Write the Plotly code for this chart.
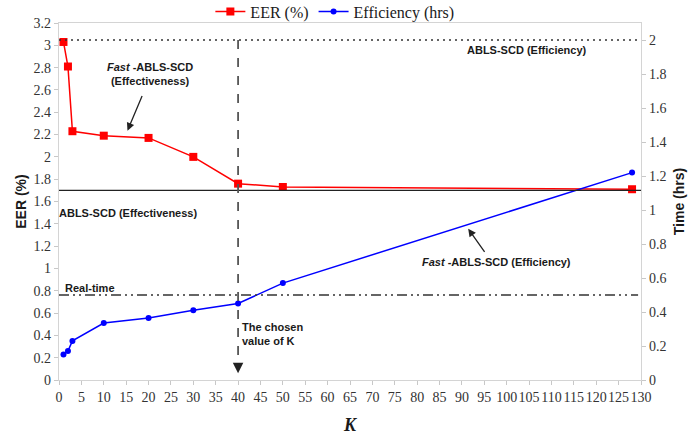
import plotly.graph_objects as go

k_values = [1, 2, 3, 10, 20, 30, 40, 50, 128]
eer_values = [3.03, 2.81, 2.23, 2.19, 2.17, 2.00, 1.76, 1.73, 1.71]
time_values = [0.15, 0.17, 0.23, 0.335, 0.365, 0.41, 0.45, 0.57, 1.22]

abls_effectiveness = 1.70   # EER (%)
abls_efficiency = 2.0       # hrs
real_time = 0.5             # hrs
chosen_k = 40

x_ticks = list(range(0, 131, 5))

serif = "Liberation Serif, Times New Roman, serif"
sans = "Liberation Sans, Arial, sans-serif"
txt = "#1a1a1a"

fig = go.Figure()

fig.add_trace(go.Scatter(
    x=k_values, y=eer_values, name="EER (%)", mode="lines+markers",
    line=dict(color="#ff0000", width=1.5),
    marker=dict(symbol="square", size=8, color="#ff0000"),
    yaxis="y"))
fig.add_trace(go.Scatter(
    x=k_values, y=time_values, name="Efficiency (hrs)", mode="lines+markers",
    line=dict(color="#0000ff", width=1.5),
    marker=dict(symbol="circle", size=6, color="#0000ff"),
    yaxis="y2"))

# reference lines
fig.add_shape(type="line", xref="paper", yref="y2", x0=0, x1=1,
              y0=abls_efficiency, y1=abls_efficiency,
              line=dict(color="#333333", width=1.6, dash="2px,4px"))
fig.add_shape(type="line", xref="paper", yref="y", x0=0, x1=1,
              y0=abls_effectiveness, y1=abls_effectiveness,
              line=dict(color="#222222", width=1.3))
fig.add_shape(type="line", xref="paper", yref="y2", x0=0, x1=0.995,
              y0=real_time, y1=real_time,
              line=dict(color="#333333", width=1.5,
                        dash="10px,4px,2px,4px,2px,4px"))
fig.add_shape(type="line", xref="x", yref="y2", x0=chosen_k, x1=chosen_k,
              y0=abls_efficiency, y1=0.08,
              line=dict(color="#555555", width=1.8, dash="dash"))

ann_font = dict(family=sans, size=11, color=txt)
anns = [
    dict(x=chosen_k, y=0.04, xref="x", yref="y2", ax=0, ay=-10, text="",
         showarrow=True, arrowhead=2, arrowsize=1.4, arrowwidth=1.5,
         arrowcolor="#222222", standoff=0),
    dict(x=15.3, y=2.235, xref="x", yref="y", ax=18.7, ay=2.56,
         axref="x", ayref="y", text="", showarrow=True, arrowhead=2,
         arrowsize=1.2, arrowwidth=1.3, arrowcolor="#222222", standoff=0),
    dict(x=91.4, y=0.89, xref="x", yref="y2", ax=95.3, ay=0.745,
         axref="x", ayref="y2", text="", showarrow=True, arrowhead=2,
         arrowsize=1.2, arrowwidth=1.3, arrowcolor="#222222", standoff=0),
    dict(x=20.3, y=2.74, xref="x", yref="y", showarrow=False,
         text="<b><i>Fast</i> -ABLS-SCD<br>(Effectiveness)</b>", font=ann_font),
    dict(x=15.4, y=1.5, xref="x", yref="y", showarrow=False,
         text="<b>ABLS-SCD (Effectiveness)</b>", font=ann_font),
    dict(x=104.5, y=1.94, xref="x", yref="y2", showarrow=False,
         text="<b>ABLS-SCD (Efficiency)</b>", font=ann_font),
    dict(x=1, y=0.54, xref="x", yref="y2", showarrow=False, xanchor="left",
         text="<b>Real-time</b>", font=ann_font),
    dict(x=40.5, y=0.27, xref="x", yref="y2", showarrow=False, xanchor="left",
         align="left", text="<b>The chosen<br>value of K</b>", font=ann_font),
    dict(x=97.8, y=0.695, xref="x", yref="y2", showarrow=False,
         text="<b><i>Fast</i> -ABLS-SCD (Efficiency)</b>", font=ann_font),
]

axis_common = dict(showgrid=False, zeroline=False, showline=True,
                   linecolor="#d4d4d4", linewidth=1.2, ticks="outside",
                   ticklen=4, tickcolor="#c8c8c8", automargin=False,
                   tickfont=dict(family=serif, size=14, color="#333333"))

fig.update_layout(
    width=700, height=436,
    margin=dict(l=59, r=59, t=23, b=55.5, autoexpand=False),
    paper_bgcolor="white", plot_bgcolor="white",
    showlegend=True,
    legend=dict(orientation="h", x=0.474, xanchor="center", y=1.032,
                yanchor="middle", font=dict(family=serif, size=16, color=txt),
                bgcolor="rgba(0,0,0,0)", itemwidth=30, tracegroupgap=0),
    xaxis=dict(range=[0, 130], tickvals=x_ticks, mirror=True, tickangle=0,
               title=dict(text="<b><i>K</i></b>", standoff=14,
                          font=dict(family=serif, size=18, color=txt)),
               **axis_common),
    yaxis=dict(range=[0, 3.2], dtick=0.2, tick0=0, mirror=True,
               title=dict(text="<b>EER (%)</b>", standoff=3,
                          font=dict(family=sans, size=14, color=txt)),
               **axis_common),
    yaxis2=dict(range=[0, 2.1], dtick=0.2, tick0=0, overlaying="y",
                side="right",
                title=dict(text="<b>Time (hrs)</b>", standoff=8,
                           font=dict(family=sans, size=14, color=txt)),
                **axis_common),
    annotations=anns,
)

fig.write_html("out.html")
